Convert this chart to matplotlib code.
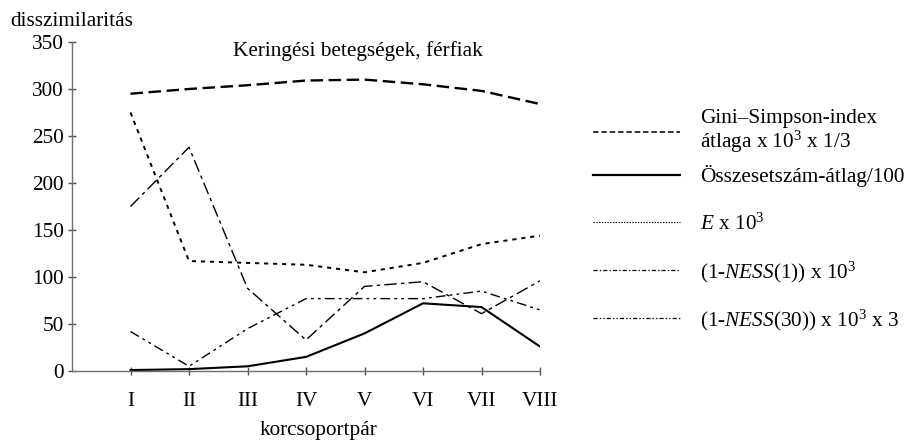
import matplotlib
matplotlib.use("Agg")
import matplotlib.pyplot as plt
from matplotlib.lines import Line2D

plt.rcParams['font.family'] = ['Liberation Serif', 'DejaVu Serif']
plt.rcParams['mathtext.fontset'] = 'custom'
plt.rcParams['mathtext.rm'] = 'Liberation Serif'
plt.rcParams['mathtext.it'] = 'Liberation Serif:italic'
plt.rcParams['lines.scale_dashes'] = False

categories = ["I", "II", "III", "IV", "V", "VI", "VII", "VIII"]
gini_simpson = [295, 300, 304, 309, 310, 305, 298, 284]
osszeset = [1, 2, 5, 15, 40, 72, 68, 26]
e_index = [275, 117, 115, 113, 105, 115, 135, 144]
ness1 = [175, 238, 88, 33, 90, 95, 61, 96]
ness30 = [42, 5, 45, 77, 77, 77, 85, 65]
y_ticks = [0, 50, 100, 150, 200, 250, 300, 350]

labels = [
    "Gini–Simpson-index\nátlaga x 10$^3$ x 1/3",
    "Összesetszám-átlag/100",
    "$E$ x 10$^3$",
    "(1-$NESS$(1)) x 10$^3$",
    "(1-$NESS$(30)) x 10$^3$ x 3",
]

FS = 15.3
W, H = 907, 441
fig = plt.figure(figsize=(W / 100, H / 100), dpi=100)
ax = fig.add_axes([72 / W, (H - 371) / H, 468 / W, 329 / H])

x = list(range(1, len(categories) + 1))
ax.plot(x, gini_simpson, color='black', lw=1.7, linestyle=(0, (9, 4)))
ax.plot(x, osszeset, color='black', lw=1.5, linestyle='-')
ax.plot(x, e_index, color='black', lw=1.4, linestyle=(0, (3, 3.5)))
ax.plot(x, ness1, color='black', lw=1.0, linestyle=(0, (9, 3, 2.5, 3)))
ax.plot(x, ness30, color='black', lw=1.0, linestyle=(0, (7, 3, 2, 3, 2, 3)))

ax.set_xlim(0, len(categories))
ax.set_ylim(0, 350)
ax.set_xticks(x)
ax.set_xticklabels(categories, fontsize=FS)
ax.set_yticks(y_ticks)
ax.set_yticklabels([str(v) for v in y_ticks], fontsize=FS)
for s in ['top', 'right']:
    ax.spines[s].set_visible(False)
for s in ['left', 'bottom']:
    ax.spines[s].set_color('#707070')
    ax.spines[s].set_linewidth(1.0)
ax.tick_params(axis='both', direction='inout', length=6, width=1.0, color='#505050')
ax.tick_params(axis='x', pad=12)
ax.tick_params(axis='y', pad=3)

fig.text(10 / W, 1 - 22 / H, "disszimilaritás", fontsize=FS, ha='left', va='center')
fig.text(358 / W, 1 - 51 / H, "Keringési betegségek, férfiak", fontsize=FS, ha='center', va='center')
fig.text(318 / W, 1 - 430 / H, "korcsoportpár", fontsize=FS, ha='center', va='center')

handles = [
    Line2D([], [], color='black', lw=1.1, linestyle=(0, (4, 2))),
    Line2D([], [], color='black', lw=1.6, linestyle='-'),
    Line2D([], [], color='black', lw=0.8, linestyle=(0, (1, 1))),
    Line2D([], [], color='black', lw=0.9, linestyle=(0, (3, 1.5, 1, 1.5))),
    Line2D([], [], color='black', lw=0.9, linestyle=(0, (3, 1.5, 1, 1.5, 1, 1.5))),
]
rows_y = [132, 176, 224, 272, 320]
for h, lab, yy in zip(handles, labels, rows_y):
    lg = fig.legend([h], [lab], loc='center left', bbox_to_anchor=(593 / W, 1 - yy / H),
                    frameon=False, fontsize=FS, borderpad=0, borderaxespad=0,
                    handlelength=4.1, handletextpad=0.95)
    for t in lg.get_texts():
        t.set_linespacing(1.0)

fig.savefig("out.png", dpi=100)
